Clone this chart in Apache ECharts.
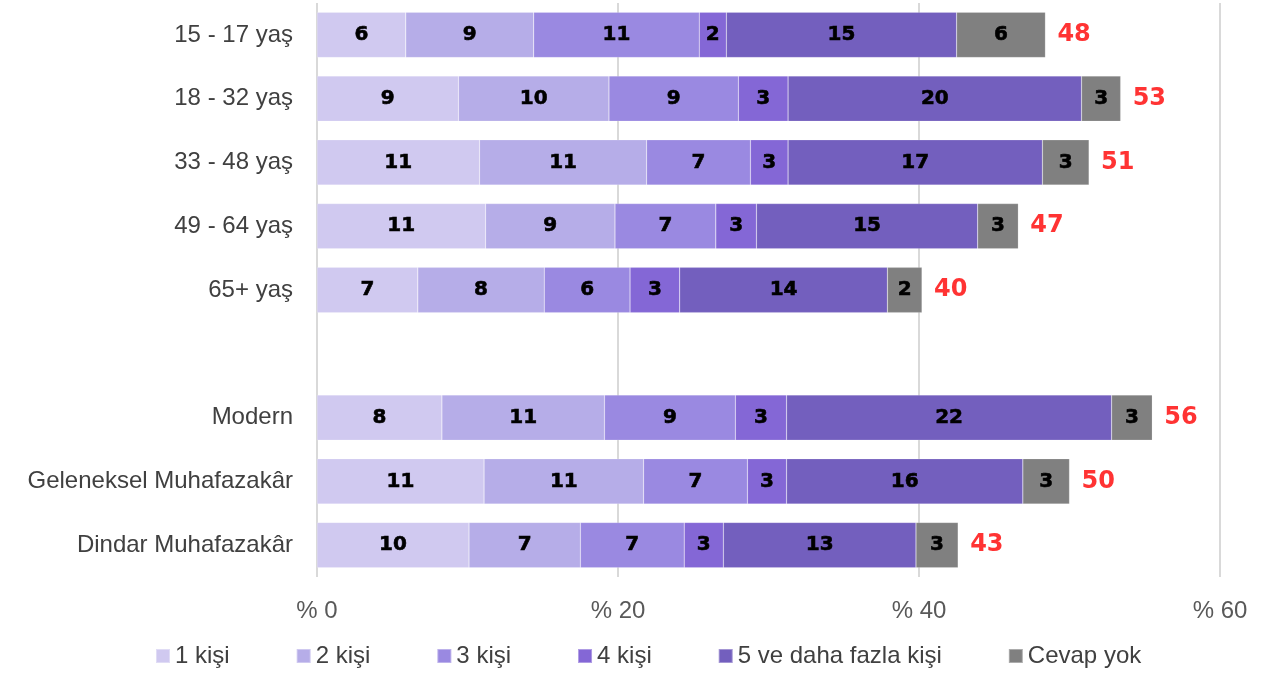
<!DOCTYPE html>
<html>
<head>
<meta charset="utf-8">
<script src="https://cdn.jsdelivr.net/npm/echarts@6/dist/echarts.min.js"></script>
<style>
  html, body { margin: 0; padding: 0; background: #fff; }
  #main { width: 1270px; height: 675px; }
</style>
</head>
<body>
<div id="main"></div>
<script>
// categories top to bottom, '' is the empty gap row
const categories = ['15 - 17 yaş', '18 - 32 yaş', '33 - 48 yaş', '49 - 64 yaş', '65+ yaş', '', 'Modern', 'Geleneksel Muhafazakâr', 'Dindar Muhafazakâr']
const seriesNames = ['1 kişi', '2 kişi', '3 kişi', '4 kişi', '5 ve daha fazla kişi', 'Cevap yok']
const colors = ['#D0C9F0', '#B6ADE8', '#9A89E1', '#8467D6', '#735FBE', '#808080']

// values (percent)
const kisi1 = [5.9, 9.4, 10.8, 11.2, 6.7, null, 8.3, 11.1, 10.1]
const kisi2 = [8.5, 10.0, 11.1, 8.6, 8.4, null, 10.8, 10.6, 7.4]
const kisi3 = [11.0, 8.6, 6.9, 6.7, 5.7, null, 8.7, 6.9, 6.9]
const kisi4 = [1.8, 3.3, 2.5, 2.7, 3.3, null, 3.4, 2.6, 2.6]
const kisi5 = [15.3, 19.5, 16.9, 14.7, 13.8, null, 21.6, 15.7, 12.8]
const cevapYok = [5.9, 2.6, 3.1, 2.7, 2.3, null, 2.7, 3.1, 2.8]
const totals = [48, 53, 51, 47, 40, null, 56, 50, 43]

const allValues = [kisi1, kisi2, kisi3, kisi4, kisi5, cevapYok]

let chart = echarts.init(document.getElementById('main'))

let barSeries = allValues.map((vals, i) => ({
  name: seriesNames[i],
  type: 'bar',
  stack: 'total',
  barCategoryGap: '29%',
  itemStyle: { color: colors[i], borderColor: 'rgba(255,255,255,0.35)', borderWidth: 0.5 },
  label: {
    show: true,
    position: 'inside',
    color: '#000',
    fontFamily: 'DejaVu Sans',
    fontWeight: 'bold',
    fontSize: 20,
    textBorderColor: '#000',
    textBorderWidth: 0.6,
    formatter: p => (p.value == null ? '' : Math.round(p.value)),
  },
  emphasis: { disabled: true },
  data: vals,
}))

// end points for the red totals
let ends = categories.map((c, j) => {
  if (totals[j] == null) return null
  let s = 0
  allValues.forEach(v => { s += v[j] })
  return [s, c]
})

chart.setOption({
  animation: false,
  grid: { left: 317, right: 50, top: 3, bottom: 98 },
  legend: {
    bottom: 2,
    left: 150,
    data: seriesNames,
    icon: 'rect',
    itemWidth: 14,
    itemHeight: 14,
    itemGap: 66,
    textStyle: { color: '#404040', fontSize: 24, fontFamily: 'Liberation Sans' },
  },
  xAxis: {
    type: 'value',
    min: 0,
    max: 60,
    interval: 20,
    axisLine: { show: false },
    axisTick: { show: false },
    axisLabel: {
      color: '#595959',
      fontSize: 24,
      fontFamily: 'Liberation Sans',
      margin: 22,
      formatter: v => '% ' + v,
    },
    splitLine: { show: true, lineStyle: { color: '#D9D9D9', width: 2 } },
  },
  yAxis: {
    type: 'category',
    data: categories,
    inverse: true,
    axisLine: { show: false },
    axisTick: { show: false },
    axisLabel: { color: '#404040', fontSize: 24, fontFamily: 'Liberation Sans', margin: 24 },
  },
  series: [
    ...barSeries,
    {
      name: 'toplam',
      type: 'scatter',
      symbolSize: 0,
      silent: true,
      label: {
        show: true,
        position: 'right',
        distance: 12,
        color: '#FF0000',
        fontFamily: 'DejaVu Sans',
        fontWeight: 'bold',
        fontSize: 24,
        formatter: p => totals[p.dataIndex],
      },
      data: ends,
    },
  ],
})
</script>
</body>
</html>
